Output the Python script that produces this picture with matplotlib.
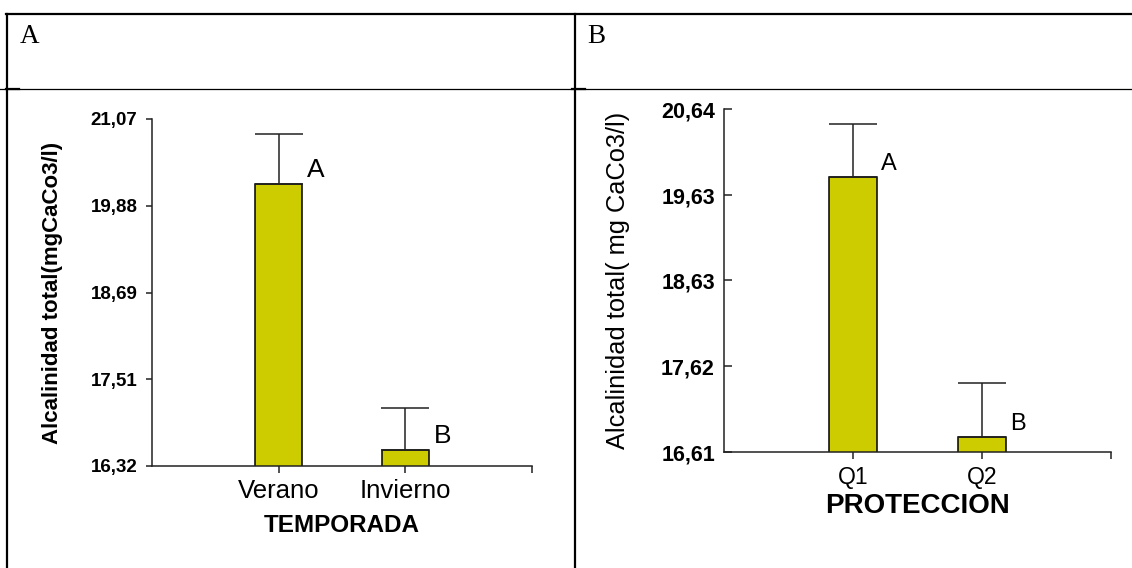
import matplotlib
matplotlib.use("Agg")
import matplotlib.pyplot as plt
import numpy as np

# A: alcalinidad total por temporada
temporadas = ["Verano", "Invierno"]
alc_temporada = [20.18, 16.54]
err_temporada = [0.68, 0.57]
letras_temporada = ["A", "B"]
yticks_temporada = [16.32, 17.51, 18.69, 19.88, 21.07]

# B: alcalinidad total por proteccion
zonas = ["Q1", "Q2"]
alc_proteccion = [19.85, 16.79]
err_proteccion = [0.62, 0.63]
letras_proteccion = ["A", "B"]
yticks_proteccion = [16.61, 17.62, 18.63, 19.63, 20.64]

W, H = 1132, 568
BAR = "#cccc00"
INK = "#222222"

plt.rcParams["font.family"] = ["Liberation Sans", "DejaVu Sans"]

fig = plt.figure(figsize=(W / 100, H / 100), dpi=100)


def px_axes(x0, y0, x1, y1):
	# box given in pixels from the top left corner
	return fig.add_axes([x0 / W, 1 - y1 / H, (x1 - x0) / W, (y1 - y0) / H])


# table lines around the two panels
frame = fig.add_axes([0, 0, 1, 1])
frame.set_xlim(0, W)
frame.set_ylim(H, 0)
frame.axis("off")
frame.plot([6, W], [14, 14], color="black", lw=1.6)
frame.plot([7, 7], [14, H], color="black", lw=1.6)
frame.plot([575, 575], [14, H], color="black", lw=1.6)
frame.plot([0, W], [89, 89], color="black", lw=0.9)
frame.plot([6, 19], [89, 89], color="black", lw=1.6)
frame.plot([572, 585], [89, 89], color="black", lw=1.6)

fig.text(20 / W, 1 - 43 / H, "A", family="Liberation Serif", fontsize=19.5, va="baseline")
fig.text(587 / W, 1 - 43 / H, "B", family="Liberation Serif", fontsize=19.5, va="baseline")


def panel(ax, cats, vals, errs, letras, yticks, ylabel, xlabel, opts):
	x = np.arange(1, len(cats) + 1)
	width = opts["width"]

	ax.bar(x, vals, width, color=BAR, edgecolor="black", linewidth=1.1, zorder=2)
	ax.errorbar(x, vals, yerr=[np.zeros(len(vals)), errs], fmt="none",
		ecolor=INK, elinewidth=1.1, capsize=opts["capsize"], capthick=1.1, zorder=3)

	for xi, v, letra in zip(x, vals, letras):
		ax.annotate(letra, xy=(xi + width / 2, v), xytext=(3.5, 5),
			textcoords="offset points", ha="left", va="baseline",
			fontsize=opts["letter_size"], color="black")

	ax.set_xlim(0, len(cats) + 1)
	ax.set_ylim(yticks[0], yticks[-1])
	ax.set_xticks(list(x) + [len(cats) + 1])
	ax.set_xticklabels(cats + [""], fontsize=opts["cat_size"])
	ax.set_yticks(yticks)
	ax.set_yticklabels([("%.2f" % t).replace(".", ",") for t in yticks],
		fontsize=opts["tick_size"], fontweight="bold")

	for side in ["top", "right"]:
		ax.spines[side].set_visible(False)
	for side in ["left", "bottom"]:
		ax.spines[side].set_linewidth(1.1)
		ax.spines[side].set_color(INK)

	ax.tick_params(axis="y", direction=opts["ytick_dir"], length=opts["ytick_len"],
		width=1.1, color=INK, pad=6.5)
	ax.tick_params(axis="x", direction="out", length=5, width=1.1, color=INK,
		pad=opts["xpad"])

	ax.set_ylabel(ylabel, fontsize=opts["ylabel_size"], fontweight=opts["ylabel_weight"])
	ax.yaxis.set_label_coords(opts["ylabel_x"], 0.5)
	ax.set_xlabel(xlabel, fontsize=opts["xlabel_size"], fontweight="bold")
	ax.xaxis.set_label_coords(0.5, opts["xlabel_y"])


ax_a = px_axes(152, 119, 532, 466)
panel(ax_a, temporadas, alc_temporada, err_temporada, letras_temporada,
	yticks_temporada, "Alcalinidad total(mgCaCo3/l)", "TEMPORADA",
	dict(width=0.37, capsize=17, letter_size=19, cat_size=18.5, tick_size=13.5,
		ytick_dir="out", ytick_len=4, xpad=4.3, ylabel_size=16, ylabel_weight="bold",
		ylabel_x=-0.234, xlabel_size=17.5, xlabel_y=-0.138))

ax_b = px_axes(724, 109.3, 1111, 452.3)
panel(ax_b, zonas, alc_proteccion, err_proteccion, letras_proteccion,
	yticks_proteccion, "Alcalinidad total( mg CaCo3/l)", "PROTECCION",
	dict(width=0.365, capsize=17, letter_size=17, cat_size=16.5, tick_size=15.5,
		ytick_dir="in", ytick_len=6, xpad=5, ylabel_size=18.3, ylabel_weight="normal",
		ylabel_x=-0.243, xlabel_size=20, xlabel_y=-0.12))

fig.savefig("out.png", dpi=100)
